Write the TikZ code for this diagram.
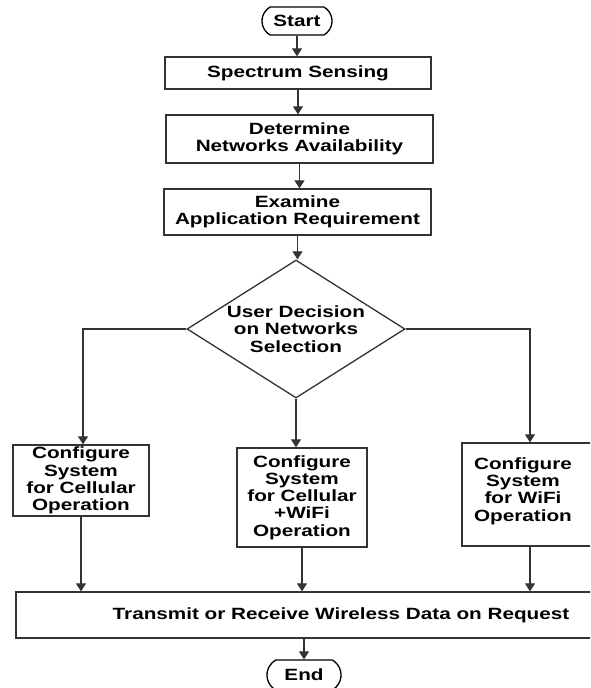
\documentclass[tikz,border=0pt]{standalone}
\usepackage{fontspec}
\setmainfont{Liberation Sans}[FakeStretch=1.27]
\usetikzlibrary{arrows.meta,shapes.geometric,shapes.misc}
\definecolor{linec}{HTML}{333333}
\tikzset{
  base/.style={font=\fontsize{16.3}{17.2}\selectfont\bfseries, align=center, inner sep=0pt},
  box/.style={base, draw=linec, line width=1.3pt},
  term/.style={base, draw=black, line width=1.3pt, rounded rectangle, rounded rectangle arc length=120},
  dec/.style={base, draw=linec, line width=1.3pt, shape=diamond, aspect=1.58},
  arr/.style={draw=linec, line width=1.2pt, -{Triangle[width=10pt,length=8pt]}},
}
\begin{document}
\begin{tikzpicture}[x=1pt,y=-1pt]
\useasboundingbox (0,0) rectangle (590,688);
\clip (0,0) rectangle (590,688);
\node[term, minimum width=70pt, minimum height=28pt] (start) at (297,21) {Start};
\node[box, minimum width=266pt, minimum height=32pt] (spec) at (298,73) {Spectrum Sensing};
\node[box, minimum width=267pt, minimum height=48pt] (det) at (299.5,139) {Determine\\Networks Availability};
\node[box, minimum width=267pt, minimum height=46pt] (exa) at (297.5,212) {Examine\\Application Requirement};
\node[dec, minimum width=218pt, minimum height=138pt] (dec) at (296,329) {User Decision\\on Networks\\Selection};
\node[box, minimum width=136pt, minimum height=71pt] (cell) at (81,480.5) {Configure\\System\\for Cellular\\Operation};
\node[box, minimum width=130pt, minimum height=99pt] (mid) at (302,497.5) {Configure\\System\\for Cellular\\+WiFi\\Operation};
\node[box, minimum width=136pt, minimum height=103pt] (wifi) at (530,494.5) {};
\node[base] (wifitext) at (523,491) {Configure\\System\\for WiFi\\Operation};
\node[box, minimum width=584pt, minimum height=46pt] (trans) at (308,615) {};
\node[base] (transtext) at (341,615) {Transmit or Receive Wireless Data on Request};
\node[term, minimum width=74pt, minimum height=30pt] (end) at (304,675) {End};

\draw[arr] (start.south) -- (start.south |- spec.north);
\draw[arr] (spec.south) -- (spec.south |- det.north);
\draw[arr] (det.south) -- (det.south |- exa.north);
\draw[arr] (exa.south) -- (exa.south |- dec.north);
\draw[arr] (dec.west) -| ([xshift=2pt]cell.north);
\draw[arr] (dec.south) -- (dec.south |- mid.north);
\draw[arr] (dec.east) -| (wifi.north);
\draw[arr] (cell.south) -- (cell.south |- trans.north);
\draw[arr] (mid.south) -- (mid.south |- trans.north);
\draw[arr] (wifi.south) -- (wifi.south |- trans.north);
\draw[arr] (end.north |- trans.south) -- (end.north);
\end{tikzpicture}
\end{document}
